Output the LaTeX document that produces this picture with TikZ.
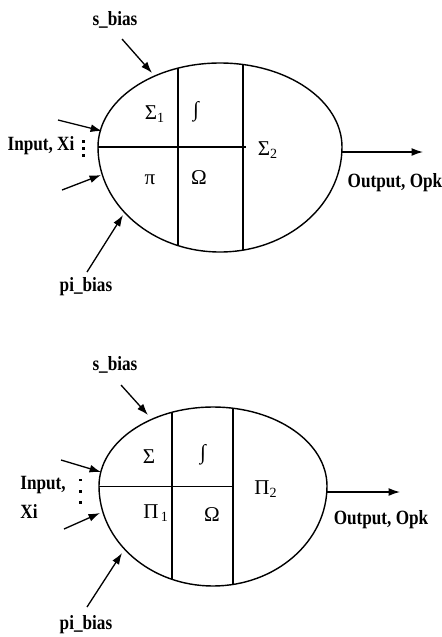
\documentclass[tikz,border=0pt]{standalone}
\usepackage{fontspec}
\setmainfont{Liberation Serif}
\newfontfamily\lblfont{Liberation Serif}[FakeStretch=0.85]
\usetikzlibrary{arrows.meta}

\begin{document}
\begin{tikzpicture}[
      x=0.02cm, y=-0.02cm,
      egg/.style={draw, line width=0.8pt},
      part/.style={draw, line width=0.8pt},
      thinpart/.style={draw, line width=0.5pt},
      arr/.style={-{Latex[length=6.5pt,width=4.5pt]}, line width=0.75pt},
      lbl/.style={font=\lblfont\bfseries\fontsize{11.5}{16.5}\selectfont, inner sep=0pt},
      op/.style={font=\fontsize{12}{14}\selectfont, inner sep=0pt}
    ]
      \useasboundingbox (0,0) rectangle (441,637);
      % upper neuron
      \draw[egg] (98,147) arc[start angle=180, end angle=360, x radius=122, y radius=84]
                 arc[start angle=0, end angle=180, x radius=122, y radius=105] -- cycle;
      \draw[part] (178,68) -- (178,246);
      \draw[part] (243,64.5) -- (243,250);
      \draw[part] (98,147) -- (246,147);
      \node[op] (sigA)   at (155,114) {Σ\textsubscript{1}};
      \node[op] (intA)   at (196,112) {∫};
      \node[op] (sigB)   at (268,150) {Σ\textsubscript{2}};
      \node[op] (piA)    at (150,180) {π};
      \node[op] (omA)    at (199,178) {Ω};
      \node[lbl] (sbiasA)  at (115,20)  {s\_bias};
      \node[lbl] (pbiasA)  at (86,287)  {pi\_bias};
      \node[lbl] (inA)     at (41,146)  {Input, Xi};
      \node[lbl] (outA)    at (395,183) {Output, Opk};
      \foreach \y in {141,148,155} \fill (81.5,\y-1.5) rectangle ++(3,3);
      \coordinate (sbTailA) at (122,39);   \coordinate (sbTipA) at (152,73);
      \coordinate (inTailA) at (58,120);   \coordinate (inTipA) at (102,131);
      \coordinate (inTailB) at (62,190);   \coordinate (inTipB) at (101,175);
      \coordinate (pbTailA) at (87,272);   \coordinate (pbTipA) at (123,215);
      \coordinate (outTailA) at (342,152); \coordinate (outTipA) at (423,152);
      \draw[arr] (sbTailA) -- (sbTipA);
      \draw[arr] (inTailA) -- (inTipA);
      \draw[arr] (inTailB) -- (inTipB);
      \draw[arr] (pbTailA) -- (pbTipA);
      \draw[arr] (outTailA) -- (outTipA);
      % lower neuron
      \draw[egg] (99,486) arc[start angle=180, end angle=360, x radius=114, y radius=79]
                 arc[start angle=0, end angle=180, x radius=114, y radius=100] -- cycle;
      \draw[part] (172,412) -- (172,579);
      \draw[part] (233,408) -- (233,584.5);
      \draw[thinpart] (99,486) -- (233,486);
      \node[op] (sigC)   at (149,457) {Σ};
      \node[op] (intB)   at (203,455) {∫};
      \node[op] (prodB)  at (266,489) {Π\textsubscript{2}};
      \node[op] (prodA)  at (156,513) {Π\textsubscript{\,1}};
      \node[op] (omB)    at (212,515) {Ω};
      \node[lbl] (sbiasB)  at (115,365) {s\_bias};
      \node[lbl] (pbiasB)  at (86,625)  {pi\_bias};
      \node[lbl, align=left, anchor=west] (inB) at (20,497.5) {Input,\\Xi};
      \node[lbl] (outB)    at (381,520) {Output, Opk};
      \fill (79,479) rectangle ++(3,2);
      \foreach \y in {491,502} \fill (78.5,\y-1.5) rectangle ++(3,3);
      \coordinate (sbTailB) at (121,385);  \coordinate (sbTipB) at (148,415);
      \coordinate (inTailC) at (61,460);   \coordinate (inTipC) at (101,472);
      \coordinate (inTailD) at (64,529);   \coordinate (inTipD) at (100,513);
      \coordinate (pbTailB) at (87,607);   \coordinate (pbTipB) at (122,553);
      \coordinate (outTailB) at (327,492); \coordinate (outTipB) at (400,492);
      \draw[arr] (sbTailB) -- (sbTipB);
      \draw[arr] (inTailC) -- (inTipC);
      \draw[arr] (inTailD) -- (inTipD);
      \draw[arr] (pbTailB) -- (pbTipB);
      \draw[arr] (outTailB) -- (outTipB);
    \end{tikzpicture}
\end{document}
